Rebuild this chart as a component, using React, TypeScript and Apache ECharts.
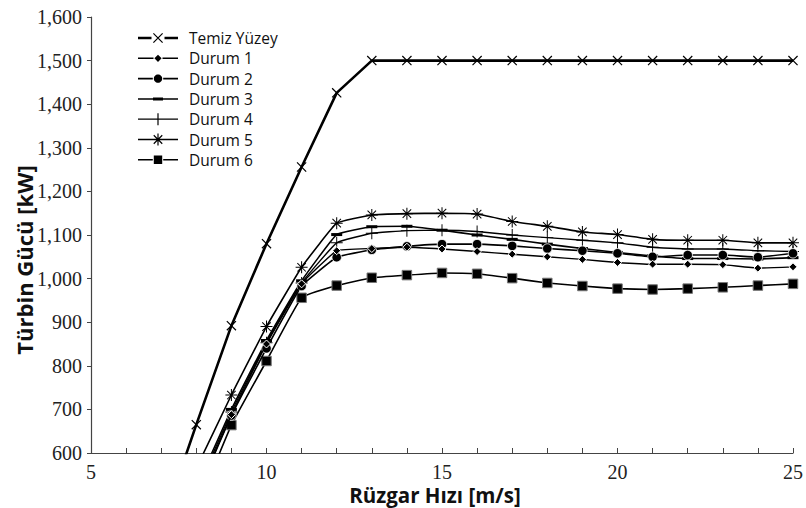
import React, { useEffect, useRef } from "react";
import * as echarts from "echarts";

const windSpeeds = [7, 8, 9, 10, 11, 12, 13, 14, 15, 16, 17, 18, 19, 20, 21, 22, 23, 24, 25];
const seriesNames = ["Temiz Yüzey", "Durum 1", "Durum 2", "Durum 3", "Durum 4", "Durum 5", "Durum 6"];
const temiz = [430, 665, 892, 1080, 1256, 1426, 1500, 1500, 1500, 1500, 1500, 1500, 1500, 1500, 1500, 1500, 1500, 1500, 1500];
const durum1 = [null, 505, 688, 850, 988, 1064, 1069, 1072, 1068, 1062, 1056, 1050, 1044, 1037, 1033, 1033, 1032, 1024, 1027];
const durum2 = [null, 500, 686, 840, 983, 1049, 1066, 1074, 1079, 1079, 1075, 1069, 1064, 1058, 1050, 1054, 1054, 1049, 1058];
const durum3 = [null, 520, 700, 858, 995, 1101, 1119, 1120, 1111, 1100, 1090, 1079, 1069, 1060, 1052, 1046, 1046, 1045, 1048];
const durum4 = [null, 512, 694, 853, 990, 1082, 1104, 1110, 1111, 1108, 1100, 1094, 1088, 1082, 1072, 1068, 1068, 1064, 1062];
const durum5 = [null, 565, 733, 890, 1026, 1127, 1146, 1149, 1150, 1148, 1131, 1120, 1107, 1101, 1090, 1088, 1088, 1082, 1082];
const durum6 = [null, 470, 664, 811, 956, 984, 1002, 1008, 1013, 1011, 1001, 990, 983, 977, 975, 977, 980, 984, 988];
const yTicks = { min: 600, max: 1600, interval: 100 };
const xTicks = { min: 5, max: 25, interval: 5 };
const xTitle = "Rüzgar Hızı [m/s]";
const yTitle = "Türbin Gücü [kW]";

// ---- shape helpers (styling only) ----
function bar(cx: number, cy: number, angleDeg: number, len: number, w: number): string {
  const a = (angleDeg * Math.PI) / 180;
  const c = Math.cos(a), s = Math.sin(a);
  const pts = [
    [-len / 2, -w / 2],
    [len / 2, -w / 2],
    [len / 2, w / 2],
    [-len / 2, w / 2],
  ].map(([x, y]) => [cx + x * c - y * s, cy + x * s + y * c]);
  return "M" + pts.map((p) => p[0].toFixed(3) + "," + p[1].toFixed(3)).join("L") + "Z";
}
function hseg(x0: number, x1: number, y: number, t: number): string {
  return bar((x0 + x1) / 2, y, 0, x1 - x0, t);
}
function poly(pts: number[][]): string {
  return "M" + pts.map((p) => p[0].toFixed(3) + "," + p[1].toFixed(3)).join("L") + "Z";
}
function circ(cx: number, cy: number, r: number): string {
  const pts: number[][] = [];
  for (let i = 0; i < 24; i++) {
    const a = (i / 24) * Math.PI * 2;
    pts.push([cx + r * Math.cos(a), cy + r * Math.sin(a)]);
  }
  return poly(pts);
}
const IW = 40, IH = 14, CX = 20, CY = 7;
const frame = "M0,0L0.01,0L0.01,0.01Z M" + IW + "," + IH + "L" + (IW - 0.01) + "," + IH + "L" + IW + "," + (IH - 0.01) + "Z";

const legendIcons = [
  frame + hseg(0, 13.5, CY, 2.6) + hseg(26.5, IW, CY, 2.6) + bar(CX, CY, 45, 13, 1.2) + bar(CX, CY, -45, 13, 1.2),
  frame + hseg(0, 15.5, CY, 1.4) + hseg(24.5, IW, CY, 1.4) + poly([[CX, CY - 3.6], [CX + 3.6, CY], [CX, CY + 3.6], [CX - 3.6, CY]]),
  frame + hseg(0, 14.8, CY, 1.6) + hseg(25.2, IW, CY, 1.6) + circ(CX, CY, 4.2),
  frame + hseg(0, IW, CY, 1.5) + hseg(CX - 5, CX + 5, CY, 3),
  frame + hseg(0, IW, CY, 1.3) + bar(CX, CY, 90, 12, 1.2),
  frame + hseg(0, IW, CY, 1.4) + bar(CX, CY, 90, 12, 1.2) + bar(CX, CY, 45, 12, 1.2) + bar(CX, CY, -45, 12, 1.2),
  frame + hseg(0, 14.8, CY, 1.6) + hseg(25.2, IW, CY, 1.6) + poly([[CX - 4.2, CY - 4.2], [CX + 4.2, CY - 4.2], [CX + 4.2, CY + 4.2], [CX - 4.2, CY + 4.2]]),
].map((d) => "path://" + d);

const crossPath = "path://" + bar(10, 10, 45, 14, 1.3) + bar(10, 10, -45, 14, 1.3);
const plusPath = "path://" + bar(10, 10, 0, 20, 1.6) + bar(10, 10, 90, 20, 1.6);
const starPath = "path://" + bar(10, 10, 90, 20, 1.7) + bar(10, 10, 45, 20, 1.7) + bar(10, 10, -45, 20, 1.7) + bar(10, 10, 0, 20, 1.7);

function toData(arr: (number | null)[]) {
  return windSpeeds.map((x, i) => [x, arr[i] === null ? "-" : arr[i]]);
}

export default function App() {
  const ref = useRef<HTMLDivElement>(null);
  useEffect(() => {
    if (!ref.current) return;
    const chart = echarts.init(ref.current, undefined, { renderer: "svg" });
    const allData = [temiz, durum1, durum2, durum3, durum4, durum5, durum6];
    const symbols: any[] = [crossPath, "diamond", "circle", "rect", plusPath, starPath, "rect"];
    const sizes: any[] = [10, 8, 9.5, [11, 3], 12, 12, 9.5];
    const widths = [2.6, 1.4, 1.6, 1.6, 1.4, 1.6, 1.6];
    const borders = [0, 1, 0.8, 0, 0, 0, 1];
    const borderColors = ["#000", "#fff", "#fff", "#000", "#000", "#000", "#777"];
    const series = seriesNames.map((name, i) => ({
      name,
      type: "line",
      data: toData(allData[i]),
      symbol: symbols[i],
      symbolSize: sizes[i],
      showAllSymbol: true,
      smooth: i === 0 ? false : 0.1,
      clip: true,
      connectNulls: false,
      lineStyle: { color: "#000", width: widths[i] },
      itemStyle: {
        color: "#000",
        borderColor: borderColors[i],
        borderWidth: borders[i],
      },
      emphasis: { disabled: true },
      z: 10 - i,
    }));
    chart.setOption({
      animation: false,
      backgroundColor: "#fff",
      grid: { left: 91, right: 12, top: 17, bottom: 55, containLabel: false },
      legend: {
        orient: "vertical",
        left: 133,
        top: 25,
        itemWidth: IW,
        itemHeight: IH,
        itemGap: 4.3,
        data: seriesNames.map((name, i) => ({
          name,
          icon: legendIcons[i],
          itemStyle: { color: "#000", borderWidth: 0, borderColor: "transparent" },
        })),
        textStyle: {
          fontFamily: "Open Sans",
          fontSize: 15.5,
          lineHeight: 16,
          color: "#111",
          padding: [0, 0, 0, 6],
        },
        selectedMode: false,
      },
      xAxis: {
        type: "value",
        min: xTicks.min,
        max: xTicks.max,
        interval: xTicks.interval,
        axisLine: { lineStyle: { color: "#444", width: 1.2 } },
        axisTick: { show: true, inside: true, length: 5, lineStyle: { color: "#444" } },
        minorTick: { show: true, splitNumber: 5, length: 5, lineStyle: { color: "#444" } },
        axisLabel: { fontFamily: "Liberation Serif", fontSize: 20, lineHeight: 19, color: "#222", margin: 9 },
        splitLine: { show: false },
      },
      yAxis: {
        type: "value",
        min: yTicks.min,
        max: yTicks.max,
        interval: yTicks.interval,
        axisLine: { show: true, lineStyle: { color: "#444", width: 1.2 } },
        axisTick: { show: true, inside: false, length: 4, lineStyle: { color: "#444" } },
        axisLabel: {
          fontFamily: "Liberation Serif",
          fontSize: 20,
          color: "#222",
          margin: 9,
          formatter: (v: number) => v.toLocaleString("en-US"),
        },
        splitLine: { show: false },
      },
      graphic: [
        {
          type: "text",
          x: 435,
          y: 495,
          style: {
            text: xTitle,
            fontFamily: "Open Sans",
            fontWeight: "bold",
            fontSize: 20.5,
            lineHeight: 21,
            fill: "#111",
            textAlign: "center",
            textVerticalAlign: "middle",
          },
        },
        {
          type: "text",
          x: 24,
          y: 260,
          rotation: Math.PI / 2,
          style: {
            text: yTitle,
            fontFamily: "Open Sans",
            fontWeight: "bold",
            fontSize: 22,
            fill: "#111",
            textAlign: "center",
            textVerticalAlign: "middle",
          },
        },
      ],
      series,
    });
    return () => chart.dispose();
  }, []);
  return (
    <div
      ref={ref}
      style={{ position: "fixed", left: 0, top: 0, width: 806, height: 508, background: "#fff" }}
    />
  );
}
